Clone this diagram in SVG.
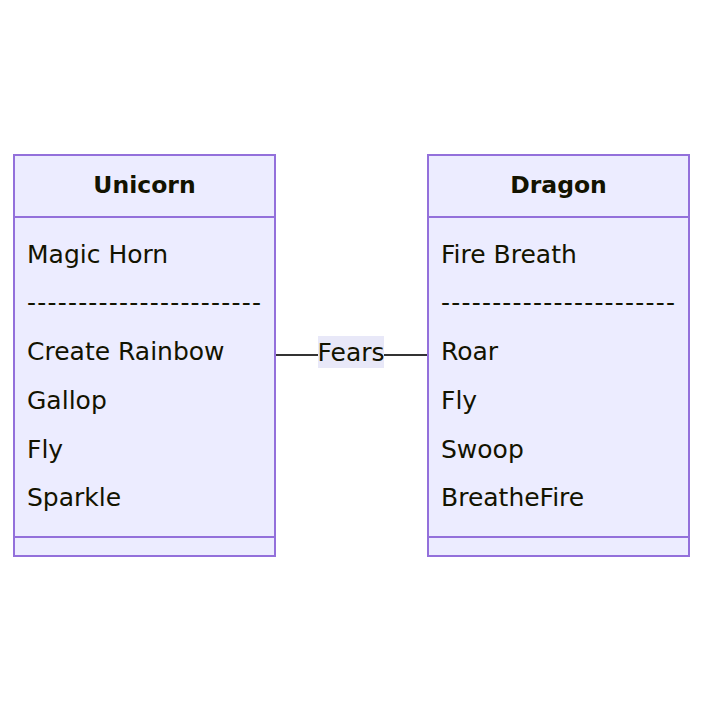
<svg xmlns="http://www.w3.org/2000/svg" width="703" height="712" viewBox="0 0 703 712">
<style>
.box{fill:#ECECFF;stroke:#9370DB;stroke-width:2}
.div{stroke:#9370DB;stroke-width:2}
text{font-family:"DejaVu Sans","Liberation Sans",sans-serif;font-size:25px;fill:#131300}
.title{font-weight:bold;text-anchor:middle;font-size:23.5px}
.edge{stroke:#333333;stroke-width:2;fill:none}
</style>
<rect width="703" height="712" fill="#ffffff"/>
<g id="connectors">
<path class="edge" d="M275,355 L428,355"/>
<rect x="318" y="336" width="66" height="32" fill="#E8E8F8"/>
<text x="351" y="361" text-anchor="middle">Fears</text>
</g>
<g id="Unicorn">
<rect class="box" x="14" y="155" width="261" height="401"/>
<line class="div" x1="14" y1="217" x2="275" y2="217"/>
<line class="div" x1="14" y1="537" x2="275" y2="537"/>
<text class="title" x="144.5" y="193">Unicorn</text>
<text x="27" y="263">Magic Horn</text>
<text x="27" y="311" textLength="234" lengthAdjust="spacing">-----------------------</text>
<text x="27" y="360">Create Rainbow</text>
<text x="27" y="409">Gallop</text>
<text x="27" y="458">Fly</text>
<text x="27" y="506">Sparkle</text>
</g>
<g id="Dragon">
<rect class="box" x="428" y="155" width="261" height="401"/>
<line class="div" x1="428" y1="217" x2="689" y2="217"/>
<line class="div" x1="428" y1="537" x2="689" y2="537"/>
<text class="title" x="558.5" y="193">Dragon</text>
<text x="441" y="263">Fire Breath</text>
<text x="441" y="311" textLength="234" lengthAdjust="spacing">-----------------------</text>
<text x="441" y="360">Roar</text>
<text x="441" y="409">Fly</text>
<text x="441" y="458">Swoop</text>
<text x="441" y="506">BreatheFire</text>
</g>
</svg>
